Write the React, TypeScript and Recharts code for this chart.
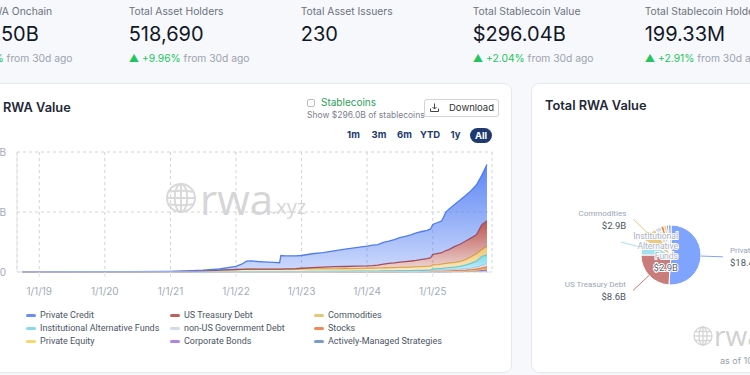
import React from "react";
import { AreaChart, Area, XAxis, YAxis, CartesianGrid, PieChart, Pie, Cell } from "recharts";

// ---- area chart data (values in $B) ----
const dates = [
  "2018-09-27", "2019-01-01", "2019-06-01", "2020-01-01", "2020-06-01", "2021-01-01", "2021-04-01", "2021-07-01", "2021-10-01",
  "2022-01-01", "2022-02-01", "2022-03-01", "2022-04-01", "2022-05-01", "2022-06-01", "2022-07-01", "2022-08-01", "2022-09-01", "2022-09-08", "2022-10-01", "2022-11-01", "2022-12-01",
  "2023-01-01", "2023-03-01", "2023-05-01", "2023-07-01", "2023-09-01", "2023-11-01",
  "2024-01-01", "2024-02-01", "2024-03-01", "2024-04-01", "2024-05-01", "2024-06-01", "2024-07-01", "2024-08-01", "2024-09-01", "2024-10-01", "2024-11-01", "2024-12-01", "2024-12-20",
  "2025-01-01", "2025-02-01", "2025-02-20", "2025-03-15", "2025-04-01", "2025-05-01", "2025-06-01", "2025-07-01", "2025-08-01", "2025-09-01", "2025-10-01", "2025-10-30",
];

const privateCredit = [
  0.02, 0.02, 0.03, 0.04, 0.05, 0.1, 0.18, 0.27, 0.39,
  1.06, 1.7, 2.64, 2.73, 2.54, 2.46, 2.35, 2.24, 2.11, 4.51, 4.39, 4.36, 4.28,
  4.25, 4.6, 4.8, 5.3, 5.8, 6.2,
  6.6, 6.8, 6.8, 7.2, 7.4, 7.8, 8.1, 8.4, 8.7, 9.1, 9.3, 9.4, 9.6,
  10.0, 10.4, 10.6, 12.8, 13.5, 14.0, 14.7, 15.2, 15.7, 16.6, 16.4, 18.7,
];
const usTreasury = [
  0, 0, 0, 0, 0, 0, 0, 0, 0.01,
  0.02, 0.03, 0.04, 0.05, 0.06, 0.07, 0.08, 0.09, 0.1, 0.1, 0.12, 0.15, 0.2,
  0.3, 0.45, 0.6, 0.7, 0.75, 0.8,
  0.85, 0.9, 1.0, 1.3, 1.45, 1.6, 1.8, 1.95, 2.05, 2.2, 2.4, 2.6, 2.8,
  3.5, 3.7, 3.8, 4.3, 4.5, 5.3, 5.8, 6.2, 6.3, 6.4, 8.4, 8.6,
];
const commodities = [
  0, 0.01, 0.01, 0.02, 0.03, 0.05, 0.1, 0.25, 0.5,
  0.7, 0.75, 0.8, 0.8, 0.78, 0.75, 0.75, 0.75, 0.75, 0.75, 0.75, 0.75, 0.78,
  0.8, 0.85, 0.85, 0.85, 0.85, 0.88,
  0.9, 0.95, 1.0, 1.0, 1.05, 1.05, 1.1, 1.1, 1.15, 1.2, 1.25, 1.25, 1.25,
  1.3, 1.35, 1.4, 1.5, 1.5, 1.55, 1.6, 1.75, 2.1, 2.4, 2.2, 2.7,
];
const instAltFunds = [
  0.01, 0.01, 0.01, 0.01, 0.01, 0.01, 0.02, 0.02, 0.03,
  0.04, 0.04, 0.04, 0.04, 0.04, 0.04, 0.04, 0.04, 0.04, 0.04, 0.04, 0.04, 0.04,
  0.04, 0.05, 0.05, 0.06, 0.06, 0.07,
  0.08, 0.08, 0.08, 0.09, 0.1, 0.1, 0.12, 0.13, 0.15, 0.18, 0.2, 0.25, 0.3,
  0.45, 0.5, 0.55, 0.65, 0.7, 0.75, 0.9, 1.2, 1.6, 2.0, 3.0, 3.0,
];
const nonUsGovDebt = [
  0, 0, 0, 0, 0, 0, 0, 0, 0,
  0, 0, 0, 0, 0, 0, 0, 0, 0, 0, 0, 0, 0,
  0.01, 0.02, 0.03, 0.04, 0.05, 0.07,
  0.08, 0.08, 0.09, 0.09, 0.1, 0.11, 0.12, 0.12, 0.13, 0.14, 0.15, 0.16, 0.17,
  0.2, 0.22, 0.23, 0.25, 0.26, 0.3, 0.35, 0.4, 0.45, 0.55, 0.75, 0.95,
];
const stocks = [
  0, 0, 0, 0, 0, 0, 0.01, 0.01, 0.01,
  0.01, 0.01, 0.01, 0.01, 0.01, 0.01, 0.01, 0.01, 0.01, 0.01, 0.01, 0.01, 0.01,
  0.01, 0.01, 0.01, 0.01, 0.01, 0.01,
  0.01, 0.01, 0.01, 0.02, 0.02, 0.02, 0.02, 0.02, 0.02, 0.02, 0.02, 0.03, 0.03,
  0.15, 0.16, 0.17, 0.18, 0.19, 0.2, 0.22, 0.25, 0.3, 0.38, 0.5, 0.65,
];
const privateEquity = [
  0.01, 0.01, 0.02, 0.02, 0.02, 0.02, 0.02, 0.03, 0.03,
  0.03, 0.03, 0.03, 0.03, 0.03, 0.03, 0.03, 0.03, 0.03, 0.03, 0.03, 0.03, 0.03,
  0.03, 0.04, 0.04, 0.04, 0.05, 0.05,
  0.05, 0.05, 0.06, 0.06, 0.06, 0.07, 0.07, 0.07, 0.07, 0.07, 0.08, 0.08, 0.08,
  0.1, 0.1, 0.11, 0.11, 0.12, 0.12, 0.13, 0.15, 0.17, 0.2, 0.28, 0.4,
];
const corporateBonds = [
  0.01, 0.01, 0.01, 0.01, 0.01, 0.02, 0.02, 0.02, 0.03,
  0.04, 0.04, 0.04, 0.04, 0.04, 0.04, 0.04, 0.04, 0.04, 0.04, 0.04, 0.04, 0.04,
  0.04, 0.04, 0.04, 0.05, 0.05, 0.05,
  0.06, 0.06, 0.06, 0.06, 0.06, 0.06, 0.06, 0.06, 0.07, 0.07, 0.07, 0.07, 0.08,
  0.08, 0.08, 0.08, 0.09, 0.09, 0.09, 0.1, 0.1, 0.12, 0.14, 0.17, 0.2,
];
const activelyManaged = [
  0, 0, 0, 0, 0, 0, 0, 0, 0,
  0, 0, 0, 0, 0, 0, 0, 0, 0.02, 0.02, 0.02, 0.02, 0.02,
  0.02, 0.02, 0.02, 0.02, 0.02, 0.02,
  0.02, 0.02, 0.02, 0.02, 0.02, 0.02, 0.03, 0.03, 0.03, 0.03, 0.03, 0.04, 0.04,
  0.07, 0.08, 0.08, 0.08, 0.09, 0.14, 0.15, 0.2, 0.26, 0.33, 0.5, 0.6,
];

const xTickDates = ["2019-01-01", "2020-01-01", "2021-01-01", "2022-01-01", "2023-01-01", "2024-01-01", "2025-01-01"];
const xTickLabels = ["1/1/19", "1/1/20", "1/1/21", "1/1/22", "1/1/23", "1/1/24", "1/1/25"];
const yTicks = [0, 20, 40];
const yTickLabels = ["$0.00", "$20B", "$40B"];

// ---- pie data ----
const pieNames = [
  "Private Credit", "US Treasury Debt", "Institutional Alternative Funds", "Commodities",
  "non-US Government Debt", "Stocks", "Private Equity", "Corporate Bonds", "Actively-Managed Strategies",
];
const pieValues = [18.4, 8.6, 2.9, 2.9, 1.2, 0.6, 0.5, 0.4, 0.5];
const pieLabels = ["$18.4B", "$8.6B", "$2.9B", "$2.9B"];

// ---- stats row ----
const statLabels = ["Total RWA Onchain", "Total Asset Holders", "Total Asset Issuers", "Total Stablecoin Value", "Total Stablecoin Holders"];
const statValues = ["$34.50B", "518,690", "230", "$296.04B", "199.33M"];
const statChanges = ["+5.83%", "+9.96%", "", "+2.04%", "+2.91%"];

const FONT = "Inter, 'Noto Sans', sans-serif";
const CHART_FONT = "Roboto, 'Noto Sans', sans-serif";
const toTime = (d: string) => Date.parse(d + "T00:00:00Z");

const series = [
  { key: "pc", name: "Private Credit", values: privateCredit, stroke: "#4f7cf3", fill: "#4f7cf3", lo: 0.28, swatch: "#6a8cf6" },
  { key: "ust", name: "US Treasury Debt", values: usTreasury, stroke: "#b3443f", fill: "#b3443f", lo: 0.18, swatch: "#c0605c" },
  { key: "com", name: "Commodities", values: commodities, stroke: "#e6b84a", fill: "#ecc061", lo: 0.3, swatch: "#e7c675" },
  { key: "iaf", name: "Institutional Alternative Funds", values: instAltFunds, stroke: "#4fcbe6", fill: "#6fd6ee", lo: 0.35, swatch: "#88d9ee" },
  { key: "nus", name: "non-US Government Debt", values: nonUsGovDebt, stroke: "#c4cee0", fill: "#d3dbe8", lo: 0.6, swatch: "#d3dbe8" },
  { key: "stk", name: "Stocks", values: stocks, stroke: "#ee6a35", fill: "#f08a57", lo: 0.7, swatch: "#f08a57" },
  { key: "pe", name: "Private Equity", values: privateEquity, stroke: "#f2c93a", fill: "#f7d86a", lo: 0.7, swatch: "#f7d86a" },
  { key: "cb", name: "Corporate Bonds", values: corporateBonds, stroke: "#a468e0", fill: "#b184e6", lo: 0.7, swatch: "#b184e6" },
  { key: "ams", name: "Actively-Managed Strategies", values: activelyManaged, stroke: "#6f8fbf", fill: "#7c9ac6", lo: 0.7, swatch: "#7c9ac6" },
];
const stackOrder = [...series].reverse();
const pieColors = ["#7ea4fd", "#c97c79", "#a4e2f2", "#edc97d", "#d5dbe5", "#ef7f4f", "#f6d55f", "#b28be8", "#8aa7cf"];

const rows = dates.map((d, i) => {
  const r: { [k: string]: number } = { t: toTime(d) };
  series.forEach((s) => (r[s.key] = s.values[i]));
  return r;
});
const pieRows = pieNames.map((name, i) => ({ name, value: pieValues[i] }));
const xTicks = xTickDates.map(toTime);
const xDomain = [toTime("2018-08-30"), toTime("2025-11-27")];

const renderPieLabel = (props: any) => {
  const { cx, cy, midAngle, outerRadius, index } = props;
  if (index > 3) return null;
  const RAD = Math.PI / 180;
  const cos = Math.cos(-midAngle * RAD);
  const sin = Math.sin(-midAngle * RAD);
  const sx = cx + outerRadius * cos;
  const sy = cy + outerRadius * sin;
  const ex = cx + (outerRadius + 22) * cos;
  const ey = cy + (outerRadius + 22) * sin;
  const color = pieColors[index];
  const line = <polyline points={`${sx},${sy} ${ex},${ey}`} stroke={color} strokeWidth={1} fill="none" />;
  if (index === 2) {
    const words = ["Institutional", "Alternative", "Funds"];
    const tx = cx + 7;
    return (
      <g>
        {line}
        {words.map((w, k) => (
          <text key={w} x={tx} y={cy - 19 + k * 10} textAnchor="end" dominantBaseline="central" fontSize={8.5}
            fill="#aab3c5" stroke="#fff" strokeWidth={2} paintOrder="stroke" fontFamily={CHART_FONT}>{w}</text>
        ))}
        <text x={tx} y={cy + 12} textAnchor="end" dominantBaseline="central" fontSize={9.5}
          fill="#5b6475" stroke="#fff" strokeWidth={2} paintOrder="stroke" fontFamily={CHART_FONT}>{pieLabels[index]}</text>
      </g>
    );
  }
  const left = cos < 0;
  const tx = ex + (left ? -7 : 7);
  return (
    <g>
      {line}
      <text x={tx} y={ey - 6} textAnchor={left ? "end" : "start"} dominantBaseline="central" fontSize={8} fill="#9aa5b8" fontFamily={CHART_FONT}>
        {pieNames[index]}
      </text>
      <text x={tx} y={ey + 6} textAnchor={left ? "end" : "start"} dominantBaseline="central" fontSize={9.5} fill="#4b5563" fontFamily={CHART_FONT}>
        {pieLabels[index]}
      </text>
    </g>
  );
};

const Globe = ({ x, y, r, color }: { x: number; y: number; r: number; color: string }) => (
  <svg style={{ position: "absolute", left: x - r - 2, top: y - r - 2 }} width={2 * r + 4} height={2 * r + 4}>
    <g transform={`translate(${r + 2},${r + 2})`} fill="none" stroke={color} strokeWidth={r / 7}>
      <circle r={r} />
      <ellipse rx={r * 0.45} ry={r} />
      <line x1={0} y1={-r} x2={0} y2={r} />
      <line x1={-r} y1={0} x2={r} y2={0} />
      <path d={`M${-r * 0.87},${-r * 0.45} Q0,${-r * 0.6} ${r * 0.87},${-r * 0.45}`} />
      <path d={`M${-r * 0.87},${r * 0.45} Q0,${r * 0.6} ${r * 0.87},${r * 0.45}`} />
    </g>
  </svg>
);

const timeButtons = [
  { label: "1m", x: 353.5 },
  { label: "3m", x: 379 },
  { label: "6m", x: 404.5 },
  { label: "YTD", x: 430 },
  { label: "1y", x: 455.5 },
];

export default function App() {
  const abs = (x: number, y: number, extra: React.CSSProperties = {}): React.CSSProperties => ({
    position: "absolute", left: x, top: y, whiteSpace: "nowrap", ...extra,
  });
  return (
    <div style={{ position: "absolute", left: 0, top: 0, width: 750, height: 375, overflow: "hidden", background: "#f7f8fb", fontFamily: FONT }}>
      {/* stats row */}
      {statLabels.map((label, i) => {
        const x = i === 0 ? -48 : -43.3 + i * 172;
        return (
          <React.Fragment key={label}>
            <div style={abs(i === 0 ? -41 : x, 4, { fontSize: 10.3, lineHeight: "14px", color: "#6b7280" })}>{label}</div>
            <div style={abs(i === 0 ? -42 : x, 21, { fontSize: 20, lineHeight: "26px", color: "#111827" })}>{statValues[i]}</div>
            {statChanges[i] && (
              <div style={abs(x, 51, { fontSize: 10.3, lineHeight: "14px", color: "#9ca3af" })}>
                <span style={{ color: "#22c55e" }}>▲ {statChanges[i]}</span> from 30d ago
              </div>
            )}
          </React.Fragment>
        );
      })}

      {/* left card */}
      <div style={abs(-20, 83, { width: 532, height: 290, background: "#fff", border: "1px solid #e6e8ee", borderRadius: 8, boxSizing: "border-box" })} />
      <div style={abs(3, 99, { fontSize: 12.8, lineHeight: "18px", fontWeight: 600, color: "#1f2937" })}>RWA Value</div>

      <div style={abs(306.5, 98.5, { width: 8, height: 8, border: "1px solid #b8bcc6", borderRadius: 2, boxSizing: "border-box" })} />
      <div style={abs(321, 95, { fontSize: 10, lineHeight: "14px", color: "#2e9e5b" })}>Stablecoins</div>
      <div style={abs(307, 109, { fontSize: 8.5, lineHeight: "12px", color: "#7b8190" })}>Show $296.0B of stablecoins</div>

      <div style={abs(424, 99, { width: 75, height: 18, border: "1px solid #cfd3da", borderRadius: 3, boxSizing: "border-box" })} />
      <svg style={abs(430, 103)} width={9} height={9}>
        <g fill="none" stroke="#444" strokeWidth={1}>
          <line x1={4.5} y1={0.5} x2={4.5} y2={6} />
          <polyline points="2.5,4 4.5,6 6.5,4" />
          <polyline points="0.5,5.5 0.5,8.5 8.5,8.5 8.5,5.5" />
        </g>
      </svg>
      <div style={abs(449, 101, { fontSize: 9.5, lineHeight: "14px", color: "#333" })}>Download</div>

      {timeButtons.map((b) => (
        <div key={b.label} style={abs(b.x - 15, 128, { width: 30, textAlign: "center", fontSize: 9.5, lineHeight: "14px", fontWeight: 700, color: "#1e3a6e" })}>
          {b.label}
        </div>
      ))}
      <div style={abs(470, 127.5, { width: 22, height: 15, borderRadius: 8, background: "#1e3a6e", color: "#fff", fontSize: 9.5, lineHeight: "15px", fontWeight: 700, textAlign: "center" })}>
        All
      </div>

      {/* chart watermark */}
      <Globe x={181} y={198} r={14} color="#d9d9d9" />
      <div style={abs(200, 176, { fontSize: 42, lineHeight: "46px", color: "#d6d6d6", fontFamily: "'Open Sans', sans-serif" })}>rwa</div>
      <div style={abs(271, 195, { fontSize: 20, lineHeight: "24px", color: "#d6d6d6", fontFamily: "'Open Sans', sans-serif" })}>.xyz</div>

      <div style={abs(-40, 140)}>
        <AreaChart width={540} height={165} data={rows} margin={{ top: 12, right: 8, left: 0, bottom: 0 }}>
          <defs>
            {series.map((s) => (
              <linearGradient key={s.key} id={`g-${s.key}`} x1="0" y1="0" x2="0" y2="1">
                <stop offset="0%" stopColor={s.fill} stopOpacity={0.92} />
                <stop offset="100%" stopColor={s.fill} stopOpacity={s.lo} />
              </linearGradient>
            ))}
          </defs>
          <CartesianGrid strokeDasharray="3 3" stroke="#cfd2d8" />
          <XAxis
            dataKey="t"
            type="number"
            domain={xDomain}
            ticks={xTicks}
            allowDataOverflow
            tickFormatter={(v) => xTickLabels[xTicks.indexOf(v)]}
            height={33}
            tickSize={5}
            tickMargin={11}
            stroke="#dfe3e9"
            tick={{ fill: "#a3abb9", fontSize: 10, fontFamily: FONT }}
          />
          <YAxis
            domain={[0, 40]}
            ticks={yTicks}
            width={57}
            tickLine={false}
            tickSize={0}
            tickMargin={11}
            axisLine={{ stroke: "#e3e6eb" }}
            tickFormatter={(v) => yTickLabels[yTicks.indexOf(v)]}
            tick={{ fill: "#a3abb9", fontSize: 10, fontFamily: FONT }}
          />
          {stackOrder.map((s) => (
            <Area
              key={s.key}
              type="linear"
              dataKey={s.key}
              name={s.name}
              stackId="rwa"
              stroke={s.stroke}
              strokeWidth={1.3}
              fill={`url(#g-${s.key})`}
              fillOpacity={1}
              dot={false}
              activeDot={false}
              isAnimationActive={false}
            />
          ))}
        </AreaChart>
      </div>

      {/* legend */}
      {series.map((s, i) => {
        const col = i % 3;
        const row = Math.floor(i / 3);
        const x = [26, 170, 314][col];
        const y = [315, 328.3, 341.3][row];
        return (
          <React.Fragment key={s.key}>
            <div style={abs(x, y - 1.5, { width: 10, height: 3, borderRadius: 1.5, background: s.swatch })} />
            <div style={abs(x + 14, y - 7, { fontSize: 9, lineHeight: "14px", color: "#4b5563", fontFamily: CHART_FONT })}>{s.name}</div>
          </React.Fragment>
        );
      })}

      {/* right card */}
      <div style={abs(531, 83, { width: 240, height: 290, background: "#fff", border: "1px solid #e6e8ee", borderRadius: 8, boxSizing: "border-box" })} />
      <div style={abs(545, 97, { fontSize: 12.8, lineHeight: "18px", fontWeight: 600, color: "#1f2937" })}>Total RWA Value</div>
      <div style={abs(531, 83)}>
        <PieChart width={240} height={290}>
          <Pie
            data={pieRows}
            dataKey="value"
            nameKey="name"
            cx={135}
            cy={167}
            outerRadius={30}
            startAngle={90}
            endAngle={-270}
            stroke="#fff"
            strokeWidth={1}
            label={renderPieLabel}
            labelLine={false}
            isAnimationActive={false}
          >
            {pieRows.map((r, i) => (
              <Cell key={r.name} fill={pieColors[i]} />
            ))}
          </Pie>
        </PieChart>
      </div>
      <Globe x={703} y={336} r={9} color="#d4d4d4" />
      <div style={abs(714, 319, { fontSize: 28, lineHeight: "32px", color: "#d0d0d0", fontFamily: "'Open Sans', sans-serif" })}>rwa.xyz</div>
      <div style={abs(720, 354, { fontSize: 9, lineHeight: "13px", color: "#9aa1ad" })}>as of 10/30/2025</div>
    </div>
  );
}
